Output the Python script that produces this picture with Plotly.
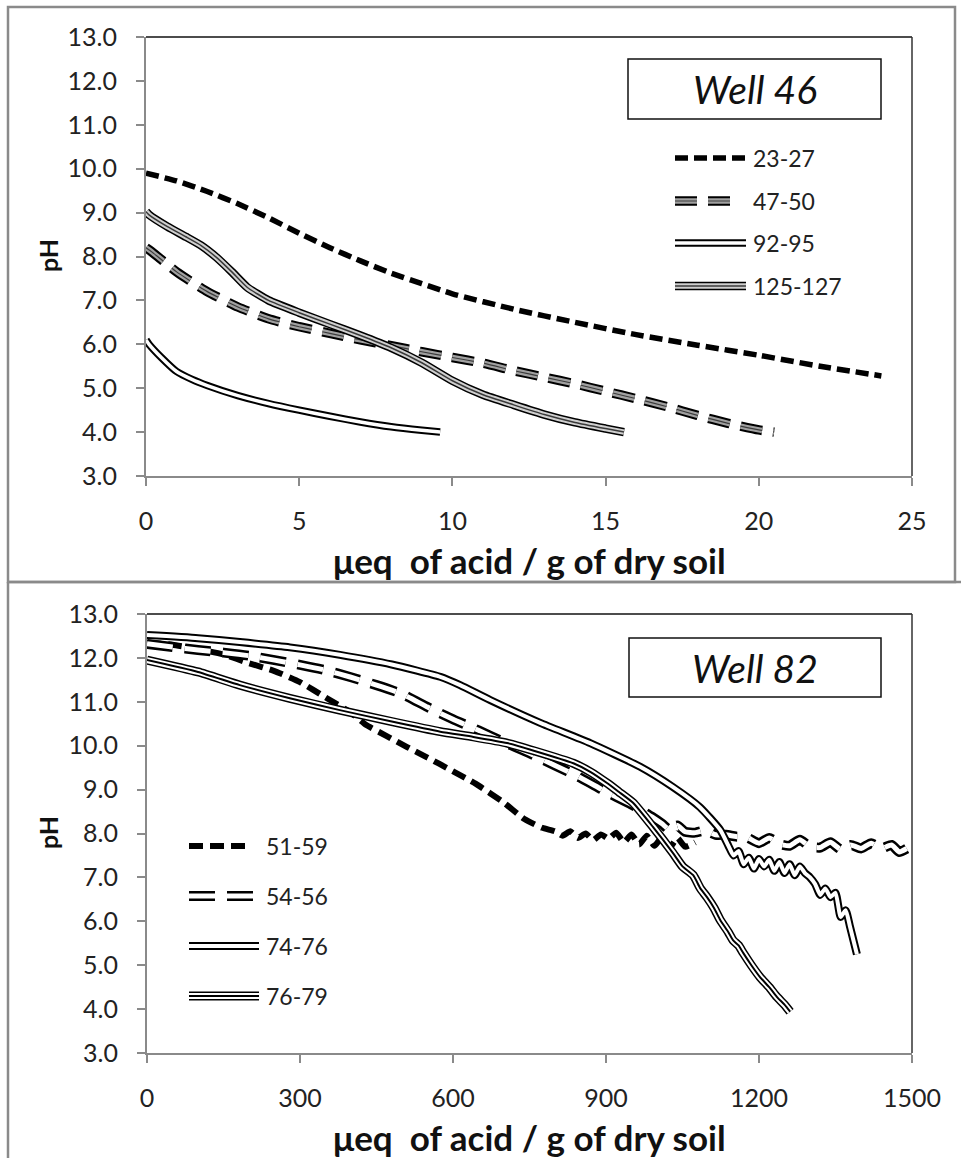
import plotly.graph_objects as go

W, H = 961, 1158

# ---------------- Well 46 titration data ----------------
w46_23_27_x = [0, 1, 2, 3, 4, 5, 6, 7, 8, 9, 10, 12, 14, 16, 18, 20, 22, 24]
w46_23_27_y = [9.9, 9.72, 9.48, 9.2, 8.88, 8.53, 8.2, 7.9, 7.62, 7.38, 7.15, 6.8, 6.5, 6.22, 5.98, 5.75, 5.5, 5.28]

w46_47_50_x = [0, 0.2, 1, 2, 3, 4, 5, 6, 7, 8, 9, 10, 11, 12, 13, 14, 15, 16, 17, 18, 19, 20, 20.5]
w46_47_50_y = [8.2, 8.1, 7.65, 7.2, 6.85, 6.58, 6.4, 6.25, 6.1, 5.97, 5.83, 5.7, 5.57, 5.4, 5.25, 5.1, 4.93, 4.76, 4.58, 4.38, 4.2, 4.05, 4.0]

w46_92_95_x = [0, 0.1, 0.5, 1, 1.5, 2, 3, 4, 5, 6, 7, 8, 9, 9.6]
w46_92_95_y = [6.1, 6.0, 5.7, 5.38, 5.2, 5.06, 4.83, 4.65, 4.5, 4.36, 4.23, 4.12, 4.04, 4.0]

w46_125_127_x = [0, 0.1, 0.7, 1.3, 1.8, 2.3, 2.8, 3.3, 4, 5, 6, 7, 8, 9, 10, 11, 12, 13, 14, 15, 15.6]
w46_125_127_y = [9.02, 8.95, 8.68, 8.45, 8.25, 7.98, 7.65, 7.3, 7.0, 6.72, 6.46, 6.2, 5.92, 5.58, 5.17, 4.85, 4.62, 4.4, 4.22, 4.08, 4.0]

# ---------------- Well 82 titration data ----------------
w82_51_59_x = [0, 50, 100, 150, 200, 250, 300, 350, 400, 430, 470, 510, 550, 595, 645, 700, 740,
               775, 800, 815, 830, 845, 860, 875, 890, 905, 920, 935, 950, 965, 980, 995, 1010,
               1025, 1040, 1055, 1075]
w82_51_59_y = [12.35, 12.3, 12.2, 12.08, 11.88, 11.7, 11.45, 11.1, 10.75, 10.47, 10.22, 9.97, 9.73,
               9.45, 9.13, 8.7, 8.33, 8.13, 8.05, 7.95, 8.05, 7.9, 8.0, 7.85, 7.98, 7.88, 8.02, 7.8,
               7.98, 7.75, 7.95, 7.72, 7.92, 7.68, 7.9, 7.7, 7.8]

w82_54_56_x = [0, 50, 100, 150, 200, 250, 300, 350, 400, 450, 500, 550, 600, 650, 700, 750, 800,
               850, 900, 950, 990, 1010, 1025, 1040, 1055, 1075, 1095, 1115, 1135, 1155, 1175,
               1200, 1220, 1240, 1260, 1280, 1300, 1320, 1340, 1360, 1380, 1400, 1420, 1440,
               1460, 1475, 1490]
w82_54_56_y = [12.32, 12.25, 12.18, 12.12, 12.05, 11.95, 11.84, 11.72, 11.56, 11.38, 11.18, 10.88,
               10.6, 10.35, 10.08, 9.83, 9.55, 9.27, 8.95, 8.66, 8.38, 8.22, 8.08, 8.18, 8.04,
               8.02, 8.07, 7.97, 7.97, 7.93, 7.92, 7.78, 7.9, 7.76, 7.72, 7.86, 7.7, 7.68, 7.8,
               7.64, 7.74, 7.66, 7.78, 7.66, 7.74, 7.58, 7.66]

w82_74_76_x = [0, 100, 182, 280, 378, 480, 575, 614, 673, 771, 869, 967, 1031, 1084, 1124, 1140,
               1150, 1160, 1170, 1180, 1190, 1200, 1210, 1220, 1230, 1240, 1250, 1260, 1270,
               1280, 1290, 1300, 1310, 1320, 1330, 1340, 1350, 1360, 1370, 1378, 1392]
w82_74_76_y = [12.52, 12.45, 12.36, 12.24, 12.07, 11.85, 11.57, 11.38, 11.04, 10.52, 10.06, 9.52,
               9.06, 8.6, 8.08, 7.72, 7.5, 7.6, 7.3, 7.45, 7.2, 7.42, 7.25, 7.4, 7.15, 7.35, 7.1,
               7.3, 7.05, 7.25, 7.1, 7.0, 6.85, 6.6, 6.75, 6.55, 6.65, 6.1, 6.25, 5.9, 5.25]

w82_76_79_x = [0, 100, 182, 280, 378, 480, 575, 640, 706, 760, 836, 870, 902, 925, 953, 992, 1031,
               1050, 1071, 1085, 1098, 1112, 1124, 1140, 1149, 1160, 1169, 1185, 1202, 1220,
               1235, 1250, 1261]
w82_76_79_y = [11.95, 11.68, 11.38, 11.08, 10.81, 10.55, 10.32, 10.2, 10.06, 9.88, 9.6, 9.4, 9.15,
               8.95, 8.7, 8.15, 7.56, 7.25, 7.05, 6.75, 6.55, 6.3, 6.03, 5.75, 5.57, 5.45, 5.28,
               5.0, 4.73, 4.5, 4.28, 4.1, 3.94]

w46_labels = ["23-27", "47-50", "92-95", "125-127"]
w82_labels = ["51-59", "54-56", "74-76", "76-79"]

# line styles: stacked (colour, width) layers give the compound-line look;
# "key" is the length of the legend sample in pixels
STYLE = {
    "23-27": dict(layers=[("#000000", 5.5)], dash="13px,6px", key=70),
    "47-50": dict(layers=[("#000000", 9.5), ("#a0a0a0", 5.5), ("#3c3c3c", 1.2)], dash="22px,11px", key=56),
    "92-95": dict(layers=[("#000000", 7.5), ("#ffffff", 3.5)], dash="solid", key=71),
    "125-127": dict(layers=[("#000000", 8.5), ("#cfcfcf", 5.5), ("#3a3a3a", 1.5)], dash="solid", key=71),
    "51-59": dict(layers=[("#000000", 6)], dash="14px,7px", key=63),
    "54-56": dict(layers=[("#000000", 10), ("#ffffff", 5)], dash="26px,12px", key=64),
    "74-76": dict(layers=[("#000000", 8), ("#ffffff", 4)], dash="solid", key=70),
    "76-79": dict(layers=[("#000000", 9), ("#ffffff", 6), ("#000000", 2)], dash="solid", key=70),
}

FONT = "Lato"
TXT = "#222222"


def px(x):
    return x / W


def py(y):
    return 1 - y / H


fig = go.Figure()


def add_series(x, y, name, xa, ya):
    st = STYLE[name]
    for color, width in st["layers"]:
        fig.add_trace(go.Scatter(
            x=x, y=y, mode="lines", name=name, showlegend=False, hoverinfo="skip",
            line=dict(color=color, width=width, dash=st["dash"], shape="spline", smoothing=0.5),
            xaxis=xa, yaxis=ya))


add_series(w46_23_27_x, w46_23_27_y, "23-27", "x", "y")
add_series(w46_47_50_x, w46_47_50_y, "47-50", "x", "y")
add_series(w46_92_95_x, w46_92_95_y, "92-95", "x", "y")
add_series(w46_125_127_x, w46_125_127_y, "125-127", "x", "y")

add_series(w82_51_59_x, w82_51_59_y, "51-59", "x2", "y2")
add_series(w82_54_56_x, w82_54_56_y, "54-56", "x2", "y2")
add_series(w82_74_76_x, w82_74_76_y, "74-76", "x2", "y2")
add_series(w82_76_79_x, w82_76_79_y, "76-79", "x2", "y2")

shapes = []
annotations = []

# panel frames
GRAY = "#8a8a8a"
shapes.append(dict(type="rect", xref="paper", yref="paper", x0=px(8), x1=px(955), y0=py(7), y1=py(582),
                   line=dict(color=GRAY, width=2.5)))
shapes.append(dict(type="line", xref="paper", yref="paper", x0=px(8), x1=px(961), y0=py(582), y1=py(582),
                   line=dict(color=GRAY, width=2.5)))
shapes.append(dict(type="line", xref="paper", yref="paper", x0=px(8), x1=px(8), y0=py(582), y1=py(1158),
                   line=dict(color=GRAY, width=2.5)))

# top and right edges of both plot areas
for (l, r, t, b) in [(146, 912, 37, 476), (147, 912, 614, 1053)]:
    shapes.append(dict(type="line", xref="paper", yref="paper", x0=px(l), x1=px(r), y0=py(t), y1=py(t),
                       line=dict(color="#111111", width=1.5)))
    shapes.append(dict(type="line", xref="paper", yref="paper", x0=px(r), x1=px(r), y0=py(t), y1=py(b),
                       line=dict(color="#333333", width=1.5)))

# title boxes
for (title, x0, x1, y0, y1) in [("Well 46", 628, 881, 59, 119), ("Well 82", 629, 881, 638, 697)]:
    shapes.append(dict(type="rect", xref="paper", yref="paper", x0=px(x0), x1=px(x1), y0=py(y0), y1=py(y1),
                       line=dict(color="#111111", width=1.5), fillcolor="white"))
    annotations.append(dict(text=title, xref="paper", yref="paper", x=px((x0 + x1) / 2), y=py((y0 + y1) / 2),
                            xanchor="center", yanchor="middle", showarrow=False,
                            font=dict(family=FONT, size=39, style="italic", color="#111111")))


# legend keys
def legend_block(labels, x0, xt, ys):
    for name, yy in zip(labels, ys):
        st = STYLE[name]
        for color, width in st["layers"]:
            shapes.append(dict(type="line", xref="paper", yref="paper", x0=px(x0), x1=px(x0 + st["key"]),
                               y0=py(yy), y1=py(yy), line=dict(color=color, width=width, dash=st["dash"])))
        annotations.append(dict(text=name, xref="paper", yref="paper", x=px(xt), y=py(yy),
                                xanchor="left", yanchor="middle", showarrow=False,
                                font=dict(family=FONT, size=23, color=TXT)))


legend_block(w46_labels, 675, 751, [158, 201, 243, 286])
legend_block(w82_labels, 189, 264, [846, 896, 946, 996])

# axis titles
for yc, xt_y in [(256, 560), (833, 1137)]:
    annotations.append(dict(text="pH", xref="paper", yref="paper", x=px(48), y=py(yc), textangle=-90,
                            xanchor="center", yanchor="middle", showarrow=False,
                            font=dict(family=FONT, size=25, weight="bold", color="#111111")))
    annotations.append(dict(text="\u03bceq\u00a0 of acid / g of dry soil", xref="paper", yref="paper",
                            x=px(529), y=py(xt_y), xanchor="center", yanchor="middle", showarrow=False,
                            font=dict(family=FONT, size=35, weight="bold", color="#111111")))

axis_common = dict(showline=True, linecolor=GRAY, linewidth=2, ticks="outside", ticklen=8,
                   tickwidth=2, tickcolor=GRAY, showgrid=False, zeroline=False, automargin=False,
                   tickfont=dict(family=FONT, size=25, color=TXT), fixedrange=True)

fig.update_layout(
    width=W, height=H, margin=dict(l=0, r=0, t=0, b=0, autoexpand=False),
    paper_bgcolor="white", plot_bgcolor="white", showlegend=False,
    xaxis=dict(domain=[px(146), px(912)], range=[0, 25], tick0=0, dtick=5, anchor="y",
               ticklabelstandoff=14, **axis_common),
    yaxis=dict(domain=[py(476), py(37)], range=[3, 13], tick0=3, dtick=1, tickformat=".1f", anchor="x",
               ticklabelstandoff=14, **axis_common),
    xaxis2=dict(domain=[px(147), px(912)], range=[0, 1500], tick0=0, dtick=300, anchor="y2",
                ticklabelstandoff=14, **axis_common),
    yaxis2=dict(domain=[py(1053), py(614)], range=[3, 13], tick0=3, dtick=1, tickformat=".1f", anchor="x2",
                ticklabelstandoff=14, **axis_common),
    shapes=shapes, annotations=annotations,
)

# drop the default page margin so the figure sits flush in the window
fig.write_html("out.html", config={"displayModeBar": False},
               post_script="document.body.style.margin='0';")
